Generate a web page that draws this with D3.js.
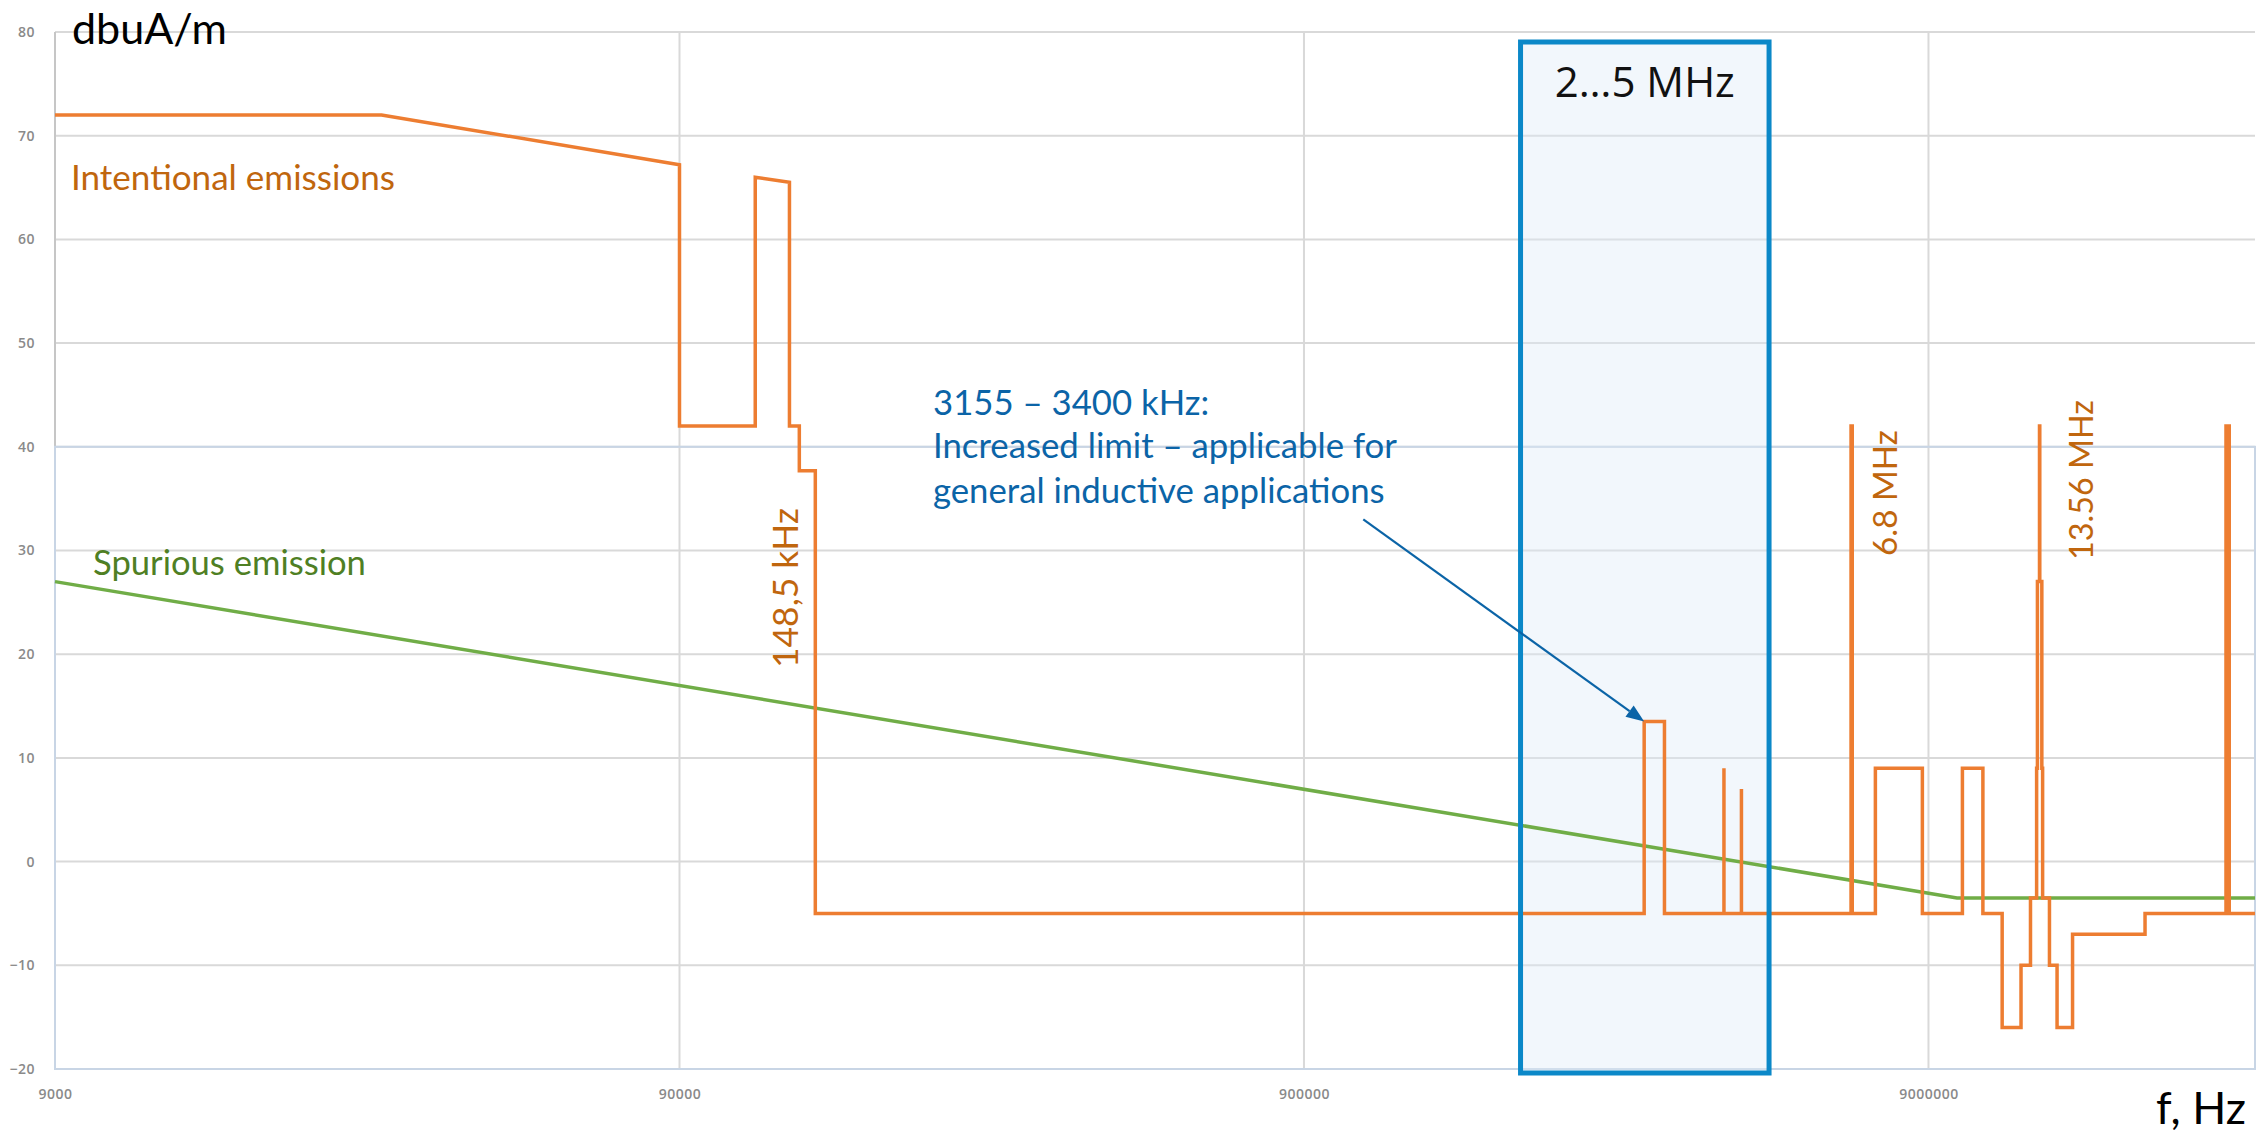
<!DOCTYPE html>
<html><head><meta charset="utf-8">
<script src="https://cdn.jsdelivr.net/npm/d3@7"></script>
<style>html,body{margin:0;padding:0;background:#fff;overflow:hidden}</style>
</head><body><svg id="c" width="2267" height="1135"></svg>
<script>
// ---------------- data ----------------
const xTickValues = [9000, 90000, 900000, 9000000];
const xTickLabels = ["9000", "90000", "900000", "9000000"];
const yTickValues = [-20, -10, 0, 10, 20, 30, 40, 50, 60, 70, 80];

const intentionalHz = [
  9000, 30000, 90000, 90000, 119000, 119000, 135000, 135000, 140000, 140000, 148500, 148500,
  3155000, 3155000, 3400000, 3400000,
  4234000, 4234000, 4234000, 4516000, 4516000, 4516000,
  6765000, 6765000, 6795000, 6795000,
  7400000, 7400000, 8800000, 8800000,
  10200000, 10200000, 11000000, 11000000,
  11810000, 11810000, 12660000, 12660000, 13110000, 13110000, 13410000, 13410000,
  13450000, 13450000, 13553000, 13553000, 13567000, 13567000, 13670000, 13670000,
  13710000, 13710000, 14060000, 14060000, 14460000, 14460000, 15310000, 15310000,
  20000000, 20000000, 26957000, 26957000, 27283000, 27283000, 30000000
];
const intentionalDb = [
  72, 72, 67.2, 42, 42, 66, 65.5, 42, 42, 37.7, 37.7, -5,
  -5, 13.5, 13.5, -5,
  -5, 9, -5, -5, 7, -5,
  -5, 42, 42, -5,
  -5, 9, 9, -5,
  -5, 9, 9, -5,
  -5, -16, -16, -10, -10, -3.5, -3.5, 9,
  9, 27, 27, 42, 42, 27, 27, 9,
  9, -3.5, -3.5, -10, -10, -16, -16, -7,
  -7, -5, -5, 42, 42, -5, -5
];

const spuriousHz = [9000, 10000000, 30000000];
const spuriousDb = [27, -3.5, -3.5];

const highlightBandHz = [2000000, 5000000];
const highlightLabel = "2…5 MHz";

const annotationLines = ["3155 – 3400 kHz:", "Increased limit – applicable for", "general inductive applications"];
const arrowFrom = [1120000, 33];
const arrowTo = [3155000, 13.5];

const yTitle = "dbuA/m";
const xTitle = "f, Hz";
const intentionalLabel = "Intentional emissions";
const spuriousLabel = "Spurious emission";
const freqLabels = ["148,5 kHz", "6.8 MHz", "13.56 MHz"];

// ---------------- layout ----------------
const L = 55, R = 2255, T = 32, B = 1069;
const svg = d3.select("#c");
const x = d3.scaleLog().domain([9000, 30000000]).range([L, R]);
const y = d3.scaleLinear().domain([-20, 80]).range([B, T]);

const ORANGE = "#ed7d31", GREEN = "#70ad47", BROWN = "#c0660e", DKGREEN = "#4f7f24";
const ANN = "#0b64a7", BOX = "#0b88c8", GRID = "#d9d9d9";
const FONT = "Lato, 'Open Sans', sans-serif";

function fit(sel, target) {
  const w = sel.node().getComputedTextLength();
  const fs = parseFloat(sel.attr("font-size"));
  sel.attr("font-size", fs * target / w);
  return fs * target / w;
}

// grid
const grid = svg.append("g");
grid.selectAll("line.h").data(yTickValues).join("line")
  .attr("x1", L).attr("x2", R).attr("y1", d => y(d)).attr("y2", d => y(d))
  .attr("stroke", GRID).attr("stroke-width", 2);
grid.selectAll("line.v").data(xTickValues.slice(1)).join("line")
  .attr("x1", d => x(d)).attr("x2", d => x(d)).attr("y1", T).attr("y2", B)
  .attr("stroke", GRID).attr("stroke-width", 2);
grid.append("line").attr("x1", L).attr("x2", L).attr("y1", T).attr("y2", B)
  .attr("stroke", "#c6c6c6").attr("stroke-width", 2);
grid.append("rect").attr("x", L).attr("y", y(40)).attr("width", R - L).attr("height", B - y(40))
  .attr("fill", "none").attr("stroke", "#c8d5e5").attr("stroke-width", 2);

// axes labels
const ya = svg.append("g").attr("transform", `translate(${L},0)`)
  .call(d3.axisLeft(y).tickValues(yTickValues).tickSize(0).tickPadding(20));
ya.select(".domain").remove();
ya.selectAll("text").attr("font-family", "'Open Sans', sans-serif").attr("font-size", 14)
  .attr("font-weight", 600).attr("fill", "#8a8a8a").attr("letter-spacing", 0.5);

const xa = svg.append("g").attr("transform", `translate(0,${B})`)
  .call(d3.axisBottom(x).tickValues(xTickValues).tickFormat((d, i) => xTickLabels[i]).tickSize(0).tickPadding(20));
xa.select(".domain").remove();
xa.selectAll("text").attr("font-family", "'Open Sans', sans-serif").attr("font-size", 14)
  .attr("font-weight", 600).attr("fill", "#8a8a8a").attr("letter-spacing", 0.5);

// highlight box fill
const bx0 = x(highlightBandHz[0]), bx1 = x(highlightBandHz[1]);
const by0 = y(80) + 10, by1 = B + 4;
svg.append("rect").attr("x", bx0).attr("y", by0).attr("width", bx1 - bx0).attr("height", by1 - by0)
  .attr("fill", "#deebf7").attr("fill-opacity", 0.4);

// lines
const line = d3.line().x(d => x(d[0])).y(d => y(d[1]));
svg.append("path").datum(d3.zip(spuriousHz, spuriousDb)).attr("d", line)
  .attr("fill", "none").attr("stroke", GREEN).attr("stroke-width", 3.5);
svg.append("path").datum(d3.zip(intentionalHz, intentionalDb)).attr("d", line)
  .attr("fill", "none").attr("stroke", ORANGE).attr("stroke-width", 3.5).attr("stroke-linejoin", "miter");

// highlight box stroke
svg.append("rect").attr("x", bx0).attr("y", by0).attr("width", bx1 - bx0).attr("height", by1 - by0)
  .attr("fill", "none").attr("stroke", BOX).attr("stroke-width", 5);
const bl = svg.append("text").text(highlightLabel).attr("x", (bx0 + bx1) / 2).attr("y", 97)
  .attr("text-anchor", "middle").attr("font-family", "'Open Sans', sans-serif").attr("font-size", 40).attr("fill", "#111");
fit(bl, 180);

// titles
const yt = svg.append("text").text(yTitle).attr("x", 72).attr("y", 44)
  .attr("font-family", FONT).attr("font-size", 40).attr("fill", "#000");
fit(yt, 155);
const xt = svg.append("text").text(xTitle).attr("x", 2156).attr("y", 1124)
  .attr("font-family", FONT).attr("font-size", 36).attr("fill", "#000");
fit(xt, 90);

// series labels
const il = svg.append("text").text(intentionalLabel).attr("x", 71).attr("y", 190)
  .attr("font-family", FONT).attr("font-size", 30).attr("fill", BROWN);
fit(il, 324);
const sl = svg.append("text").text(spuriousLabel).attr("x", 93).attr("y", 575)
  .attr("font-family", FONT).attr("font-size", 30).attr("fill", DKGREEN);
fit(sl, 273);

// rotated frequency labels
const rot = [[798, 668, 160], [1897, 556, 126], [2093, 560, 160]];
freqLabels.forEach((t, i) => {
  const [px, py, len] = rot[i];
  const s = svg.append("text").text(t).attr("transform", `translate(${px},${py}) rotate(-90)`)
    .attr("font-family", FONT).attr("font-size", 30).attr("fill", BROWN);
  fit(s, len);
});

// annotation
const annY = [415, 458, 503];
let afs = null;
const annSel = annotationLines.map((t, i) => svg.append("text").text(t).attr("x", 933).attr("y", annY[i])
  .attr("font-family", FONT).attr("font-size", 30).attr("fill", ANN));
afs = fit(annSel[1], 464);
annSel.forEach(s => s.attr("font-size", afs));

// arrow
const ax0 = x(arrowFrom[0]), ay0 = y(arrowFrom[1]);
const ax1 = x(arrowTo[0]), ay1 = y(arrowTo[1]);
const dx = ax1 - ax0, dy = ay1 - ay0, len = Math.hypot(dx, dy);
const ux = dx / len, uy = dy / len, hl = 18, hw = 7;
const bxh = ax1 - ux * hl, byh = ay1 - uy * hl;
svg.append("line").attr("x1", ax0).attr("y1", ay0).attr("x2", bxh).attr("y2", byh)
  .attr("stroke", ANN).attr("stroke-width", 2.2);
svg.append("path").attr("d", `M${ax1},${ay1}L${bxh - uy * hw},${byh + ux * hw}L${bxh + uy * hw},${byh - ux * hw}Z`)
  .attr("fill", ANN);
</script></body></html>
